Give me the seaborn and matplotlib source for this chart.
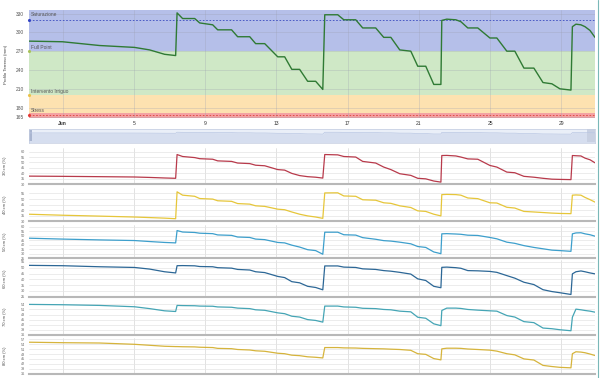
import pandas as pd
import seaborn as sns
import matplotlib.pyplot as plt
from matplotlib.lines import Line2D
from matplotlib.patches import Rectangle

sns.set_theme(style='white')
plt.rcParams['font.family'] = ['Liberation Sans', 'DejaVu Sans']

# --- data (days counted from 31 May, so 1 = 1 Jun) ---
giorni = [-0.91, 1.00, 3.08, 5.04, 5.89, 6.73, 7.35, 7.43, 7.74, 8.42, 8.70, 9.43, 9.71, 10.49, 10.83,
          11.51, 11.84, 12.35, 13.08, 13.47, 13.87, 14.31, 14.76, 15.21, 15.61, 15.72, 16.45, 16.79,
          17.46, 17.85, 18.58, 19.03, 19.43, 19.93, 20.55, 20.94, 21.39, 21.84, 22.24, 22.29, 22.57,
          23.08, 23.36, 23.75, 24.31, 24.99, 25.38, 25.94, 26.39, 26.90, 27.46, 27.97, 28.47, 28.92,
          29.54, 29.62, 29.82, 30.10, 30.33, 30.61, 30.89]

profilo_mm = [286, 285, 279, 276, 272, 265, 263, 331, 322, 322, 315, 312, 304, 304, 293, 293, 282, 282,
              261, 261, 241, 241, 222, 222, 209, 328, 328, 320, 320, 307, 307, 292, 292, 272, 270, 246,
              246, 217, 217, 319, 321, 320, 317, 307, 307, 291, 291, 270, 270, 243, 243, 220, 218, 210,
              208, 309, 313, 312, 309, 303, 292]

cm30 = [37.5, 37.3, 37.0, 36.7, 36.3, 35.8, 35.5, 57.3, 55.5, 54.5, 53.5, 53.0, 51.5, 51.0, 49.5, 49.0,
        47.5, 47.0, 43.5, 43.0, 40.0, 38.0, 37.0, 36.5, 35.7, 57.3, 57.0, 55.5, 55.0, 51.0, 49.5, 45.8,
        43.5, 39.7, 38.2, 35.5, 35.0, 33.0, 32.0, 56.4, 56.5, 56.0, 55.0, 53.3, 53.0, 47.3, 45.8, 41.2,
        40.6, 37.3, 36.5, 35.5, 34.7, 34.5, 34.3, 56.4, 56.2, 56.0, 54.0, 52.5, 49.7]
cm40 = [36.5, 35.6, 34.8, 34.0, 33.5, 33.0, 32.5, 56.5, 53.5, 52.5, 50.5, 50.0, 48.5, 48.0, 46.0, 45.5,
        44.0, 43.5, 41.0, 40.5, 38.5, 36.5, 35.0, 34.0, 32.8, 55.5, 55.6, 52.8, 52.5, 49.4, 49.0, 46.7,
        46.2, 44.0, 42.5, 39.5, 39.0, 36.5, 35.0, 54.0, 54.2, 54.0, 53.5, 51.0, 50.4, 46.7, 46.5, 42.7,
        42.0, 39.0, 38.5, 38.0, 37.5, 37.2, 37.0, 53.5, 53.7, 53.5, 51.5, 49.5, 47.3]
cm50 = [47.2, 46.2, 45.3, 44.6, 43.5, 42.5, 42.0, 55.6, 54.0, 53.5, 52.7, 52.2, 50.8, 50.3, 48.5, 48.0,
        46.2, 45.6, 42.5, 42.0, 39.5, 37.4, 34.5, 33.5, 29.5, 53.8, 53.8, 51.0, 50.6, 47.8, 46.0, 44.5,
        44.0, 42.8, 41.0, 38.0, 37.0, 32.0, 30.1, 52.0, 52.2, 51.8, 51.5, 50.5, 50.2, 48.0, 46.5, 42.8,
        41.5, 39.0, 37.0, 35.5, 34.0, 33.5, 32.7, 52.0, 53.0, 53.2, 52.0, 51.0, 49.4]
cm60 = [52.0, 51.7, 50.8, 50.2, 48.8, 46.5, 45.5, 51.7, 51.8, 51.6, 51.0, 50.8, 50.0, 49.6, 48.5, 48.0,
        46.5, 45.8, 42.5, 41.5, 38.0, 37.0, 34.0, 33.0, 31.0, 51.5, 51.5, 50.5, 50.2, 49.0, 48.5, 47.5,
        47.0, 46.0, 44.5, 40.4, 39.0, 34.0, 32.8, 50.3, 50.5, 50.0, 49.5, 47.5, 47.3, 46.8, 46.0, 43.2,
        41.0, 37.5, 35.5, 31.1, 29.5, 28.5, 27.0, 44.7, 46.5, 47.2, 46.5, 45.5, 44.7]
cm70 = [54.0, 53.8, 53.4, 52.6, 51.5, 50.2, 49.8, 53.4, 53.3, 53.2, 53.0, 52.9, 52.5, 52.3, 51.8, 51.5,
        50.8, 50.5, 49.0, 48.5, 47.0, 46.5, 45.0, 44.5, 43.5, 53.0, 53.0, 52.5, 52.3, 51.7, 51.5, 51.0,
        50.8, 50.0, 49.6, 46.4, 45.8, 42.5, 41.4, 50.4, 51.8, 51.8, 51.6, 51.0, 50.6, 50.2, 50.0, 47.4,
        46.5, 43.8, 43.2, 40.0, 39.6, 39.0, 38.4, 46.4, 51.2, 50.8, 50.4, 50.0, 49.4]
cm80 = [55.3, 55.0, 54.8, 54.0, 53.4, 52.8, 52.6, 52.6, 52.5, 52.4, 52.2, 52.0, 51.5, 51.3, 50.8, 50.5,
        50.0, 49.7, 48.5, 48.2, 47.3, 47.0, 46.3, 46.0, 45.6, 52.0, 52.0, 51.8, 51.7, 51.5, 51.3, 51.2,
        51.0, 50.8, 50.3, 48.2, 47.8, 45.2, 44.4, 51.2, 51.6, 51.6, 51.5, 51.1, 50.8, 50.4, 49.8, 48.2,
        47.5, 45.0, 44.3, 41.0, 40.3, 39.8, 39.5, 48.2, 49.4, 49.2, 48.8, 48.0, 47.1]

soglie_nomi = ['Saturazione', 'Full Point', 'Intervento Irriguo', 'Stress']
soglie_val = [320, 270, 200, 168]
bande = [(163.5, 171, '#f3a3a3'), (171, 200, '#fde2b0'), (200, 270, '#cfe8c6'), (270, 336, '#b5bfe9')]

tick_giorni = [1, 5, 9, 13, 17, 21, 25, 29]
tick_etichette = ['Jun', '5', '9', '13', '17', '21', '25', '29']

inizio = pd.Timestamp('2024-05-31')
df = pd.DataFrame({
    'data': inizio + pd.to_timedelta(giorni, unit='D'),
    'Profilo Terreno (mm)': profilo_mm,
    '30 cm (%)': cm30, '40 cm (%)': cm40, '50 cm (%)': cm50,
    '60 cm (%)': cm60, '70 cm (%)': cm70, '80 cm (%)': cm80,
})
tick_date = [inizio + pd.Timedelta(days=d) for d in tick_giorni]
x_min, x_max = df['data'].iloc[0], df['data'].iloc[-1]

W, H = 600, 378
fig = plt.figure(figsize=(6, 3.78), dpi=100)


def box(top, bottom, left=28.5, right=595):
    return [left / W, 1 - bottom / H, (right - left) / W, (bottom - top) / H]


# --- main chart: soil profile ---
ax = fig.add_axes(box(10, 118))
for lo, hi, c in bande:
    ax.axhspan(lo, hi, color=c, lw=0, zorder=0)
ax.grid(True, color='#9a9fb0', lw=0.45, alpha=0.45)
ax.set_axisbelow(True)
sns.lineplot(data=df, x='data', y='Profilo Terreno (mm)', ax=ax, color='#2f7a34', lw=1.0, zorder=5)
ax.axhline(320, color='#3a4bc0', ls=(0, (2, 2)), lw=0.6, zorder=4)
ax.axhline(168, color='#e0403a', ls=(0, (2, 2)), lw=0.6, zorder=4)

col_soglie = ['#3343c4', '#a9c25a', '#eac24a', '#e53935']
off = [8, 6, 6.5, 7]
for nome, v, c, o in zip(soglie_nomi, soglie_val, col_soglie, off):
    ax.scatter([x_min], [v], s=5, color=c, zorder=6, clip_on=False, lw=0)
    ax.text(0.004, v + o, nome, transform=ax.get_yaxis_transform(), fontsize=3.5,
            color='#555555', va='center', ha='left', zorder=7)

ax.set_xlim(x_min, x_max)
ax.set_ylim(163.5, 335.6)
ax.set_yticks([165, 180, 210, 240, 270, 300, 330])
ax.set_xticks(tick_date)
ax.set_xticklabels(tick_etichette)
ax.get_xticklabels()[0].set_fontweight('bold')
ax.tick_params(axis='y', labelsize=3.5, colors='#555555', length=2, width=0.4, pad=1)
ax.tick_params(axis='x', labelsize=3.6, colors='#333333', length=0, pad=2.5)
ax.set_xlabel('')
ax.set_ylabel('Profilo Terreno (mm)', fontsize=3.2, color='#444444')
ax.yaxis.set_label_coords(-0.036, 0.5)
for s in ax.spines.values():
    s.set_visible(False)

# --- navigator ---
nav = fig.add_axes(box(128.5, 142.5))
nav.set_facecolor('#eaeff8')
nav.fill_between(df['data'], -330, df['Profilo Terreno (mm)'], color='#d6deef', lw=0)
sns.lineplot(data=df, x='data', y='Profilo Terreno (mm)', ax=nav, color='#bac7e3', lw=0.5)
nav.set_xlim(x_min, x_max)
nav.set_ylim(-330, 570)
nav.set_xticks([])
nav.set_yticks([])
nav.set_xlabel('')
nav.set_ylabel('')
for s in nav.spines.values():
    s.set_color('#c3cce0')
    s.set_linewidth(0.5)
nav.add_patch(Rectangle((0, 0.1), 0.006, 0.8, transform=nav.transAxes, color='#a9b5d0', lw=0))
nav.add_patch(Rectangle((0.985, 0.05), 0.015, 0.9, transform=nav.transAxes, color='#c8d0e2', lw=0))

# --- moisture panels ---
profondita = ['30 cm (%)', '40 cm (%)', '50 cm (%)', '60 cm (%)', '70 cm (%)', '80 cm (%)']
colori = ['#b83a4b', '#e6c63a', '#3d9fcc', '#2c6796', '#45a5b5', '#d6b43c']
pannelli = [
    (148, 184.3, 30, 63.3, range(30, 61, 5)),
    (188, 221.5, 30, 59.9, range(30, 56, 5)),
    (224.5, 258.3, 25, 62.3, range(25, 61, 5)),
    (260, 296.8, 25, 56.6, range(25, 56, 5)),
    (299.5, 334.8, 36, 56.9, range(36, 55, 3)),
    (337.5, 373.5, 36, 58.2, range(36, 58, 3)),
]
for col, c, (top, bottom, lo, hi, ticks) in zip(profondita, colori, pannelli):
    a = fig.add_axes(box(top, bottom))
    a.grid(axis='y', color='#e4e4e4', lw=0.5)
    a.grid(axis='x', color='#d6d6d6', lw=0.5)
    a.set_axisbelow(True)
    sns.lineplot(data=df, x='data', y=col, ax=a, color=c, lw=0.9)
    a.set_xlim(x_min, x_max)
    a.set_ylim(lo, hi)
    a.set_yticks(list(ticks))
    a.set_xticks(tick_date)
    a.set_xticklabels([])
    a.set_xlabel('')
    a.set_ylabel(col, fontsize=3.0, color='#444444')
    a.yaxis.set_label_coords(-0.038, 0.5)
    a.tick_params(axis='y', labelsize=2.7, colors='#666666', length=1.5, width=0.3, pad=0.8)
    a.tick_params(axis='x', length=2, width=0.4, colors='#666666', direction='out', pad=0)
    for s in ['top', 'right', 'left']:
        a.spines[s].set_visible(False)
    a.spines['bottom'].set_color('#b8b8b8')
    a.spines['bottom'].set_linewidth(1.5)

fig.add_artist(Line2D([597.5 / W] * 2, [0, 1], color='#7ab8b8', lw=0.8))

plt.savefig('out.png', dpi=100)
